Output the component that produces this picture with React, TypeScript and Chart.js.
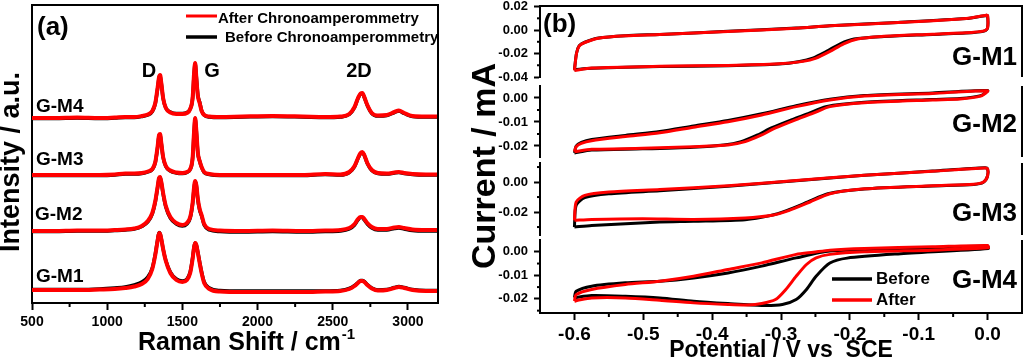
import React, { useEffect, useRef } from 'react';
import { Chart, registerables } from 'chart.js';

Chart.register(...registerables);

// ---------------- Panel (a): Raman spectra ----------------
const RAMAN_X = [500, 650, 800, 950, 1050, 1120, 1180, 1230, 1270, 1300, 1320, 1335, 1345, 1352, 1360, 1372, 1390, 1420, 1460, 1500, 1530, 1552, 1568, 1578, 1585, 1593, 1603, 1615, 1628, 1645, 1680, 1750, 1900, 2100, 2300, 2450, 2550, 2610, 2645, 2668, 2685, 2697, 2710, 2730, 2760, 2800, 2860, 2910, 2940, 2975, 3030, 3120, 3200];

const M1_AFTER = [13, 13, 13, 13.5, 14, 15, 16.5, 19, 24, 34, 48, 62, 70, 69, 64, 54, 42, 30, 23, 21, 23, 30, 44, 56, 60, 58, 50, 40, 30, 20, 14, 11.5, 11, 11, 11, 11.5, 12, 14, 17, 20, 22, 22, 21, 18, 14.5, 12.5, 13, 15, 16, 15, 13, 12, 12];
const M1_BEFORE = [13.5, 13.5, 13.5, 14, 15, 16, 18, 21, 26, 35, 49, 63, 70.5, 69.5, 64, 54, 42.5, 31, 24, 22, 24, 31, 45, 56.5, 60, 58, 51, 41, 31, 21, 15, 12.5, 12, 12, 12, 12, 12.5, 14.5, 17.5, 20.5, 22.5, 22.5, 21.5, 18.5, 15, 13, 13.5, 15.5, 16.5, 15.5, 13.5, 12.5, 12.5];
const M2_AFTER = [72, 72, 72.5, 72.5, 73, 73.5, 74.5, 77, 82, 90, 102, 116, 125, 126, 121, 110, 97, 86, 80, 78, 80, 86, 100, 116, 122, 118, 104, 94, 88, 79, 74, 72.5, 72, 72.5, 72, 72.5, 73, 75, 79, 84, 86, 86, 84, 80, 76, 74, 74, 75.5, 76, 75, 73.5, 73, 73];
const M2_BEFORE = [71.5, 71.5, 72, 72, 72.5, 73, 74, 76.5, 81, 89, 101, 115, 124.5, 125.5, 120.5, 109, 96, 85, 79, 77, 79, 85, 99, 115, 121.5, 117.5, 103, 93, 87, 78, 73, 71.5, 71, 71.5, 71, 71.5, 72, 74, 78, 83, 85.5, 85.5, 83, 79, 75, 73, 73, 74.5, 75, 74, 72.5, 72, 72];
const M3_AFTER = [128, 128, 128, 128, 128.5, 129.5, 129.5, 130, 131.5, 134, 141, 156, 168, 169, 160, 146, 137, 132.5, 130.5, 130, 131, 134, 145, 172, 185, 172, 150, 142, 136, 131, 129, 128, 128, 128, 128, 129, 128.5, 131, 137, 145, 150, 151, 148, 140, 133, 130, 129.5, 130.5, 131, 130, 129, 128.5, 128.5];
const M3_BEFORE = [127.5, 127.5, 127.5, 127.5, 128, 129, 129, 129.5, 131, 133.5, 140.5, 155, 167.5, 168.5, 159.5, 145.5, 136.5, 132, 130, 129.5, 130.5, 133.5, 144.5, 171, 184.5, 171.5, 150, 142, 135.5, 130.5, 128.5, 127.5, 127.5, 127.5, 127.5, 128.5, 128, 130.5, 136.5, 144.5, 149.5, 150.5, 147.5, 139.5, 132.5, 129.5, 129, 130, 130.5, 129.5, 128.5, 128, 128];
const M4_AFTER = [185, 185, 185.5, 185, 185.5, 186, 186, 187, 188.5, 192, 200, 215, 226, 228, 220, 205, 195, 190.5, 189, 189, 190, 194, 205, 230, 240, 225, 207, 200, 192, 188, 186.5, 186, 186.5, 187, 186.5, 186, 186.5, 189, 196, 205, 209.5, 210, 206, 198, 190, 187.5, 188, 191, 192.5, 190, 187, 186.5, 186.5];
const M4_BEFORE = [184.5, 184.5, 185, 184.5, 185, 185.5, 185.5, 186.5, 188, 191.5, 199.5, 214, 225.5, 227.5, 219.5, 204.5, 195, 191, 189.5, 189.5, 190.5, 194, 204.5, 229, 239.5, 226, 208, 201, 192.5, 188, 186, 185.5, 186, 186.5, 186, 185.5, 186, 188.5, 195.5, 204.5, 209, 209.5, 205.5, 197.5, 189.5, 187, 187.5, 190.5, 192, 189.5, 186.5, 186, 186];

const RAMAN_TICKS = [500, 1000, 1500, 2000, 2500, 3000];
const RAMAN_MINOR = [750, 1250, 1750, 2250, 2750];
const SAMPLES = ['G-M1', 'G-M2', 'G-M3', 'G-M4'];
const PEAKS = ['D', 'G', '2D'];
const LEGEND_A = ['After Chronoamperommetry', 'Before Chronoamperommetry'];
const LEGEND_B = ['Before', 'After'];

// ---------------- Panel (b): cyclic voltammograms ----------------
const CV1_AFTER_V = [-0.600, -0.597, -0.593, -0.585, -0.565, -0.526, -0.476, -0.377, -0.278, -0.229, -0.130, -0.031, -0.002, 0.000, 0.000, -0.004, -0.020, -0.080, -0.154, -0.189, -0.209, -0.229, -0.249, -0.268, -0.303, -0.377, -0.476, -0.575, -0.600];
const CV1_AFTER_I = [-0.0345, -0.0200, -0.0135, -0.0106, -0.0069, -0.0049, -0.0038, -0.0012, 0.0016, 0.0036, 0.0064, 0.0098, 0.0127, 0.0125, 0.0020, -0.0005, -0.0018, -0.0035, -0.0055, -0.0077, -0.0117, -0.0182, -0.0239, -0.0267, -0.0287, -0.0301, -0.0309, -0.0324, -0.0345];
const CV1_BEFORE_V = [-0.600, -0.597, -0.593, -0.585, -0.565, -0.526, -0.476, -0.377, -0.278, -0.229, -0.130, -0.031, -0.002, 0.000, 0.000, -0.004, -0.020, -0.080, -0.154, -0.194, -0.214, -0.234, -0.254, -0.273, -0.303, -0.377, -0.476, -0.575, -0.600];
const CV1_BEFORE_I = [-0.0338, -0.0198, -0.0133, -0.0104, -0.0068, -0.0048, -0.0037, -0.0011, 0.0017, 0.0037, 0.0065, 0.0098, 0.0125, 0.0122, 0.0018, -0.0007, -0.0020, -0.0037, -0.0057, -0.0077, -0.0117, -0.0182, -0.0239, -0.0268, -0.0290, -0.0304, -0.0311, -0.0326, -0.0338];

const CV2_AFTER_V = [-0.600, -0.5975, -0.590, -0.575, -0.526, -0.476, -0.427, -0.377, -0.328, -0.278, -0.229, -0.179, -0.080, 0.000, -0.010, -0.040, -0.080, -0.179, -0.229, -0.253, -0.278, -0.308, -0.328, -0.352, -0.377, -0.427, -0.501, -0.575, -0.600];
const CV2_AFTER_I = [-0.0224, -0.0203, -0.0189, -0.0178, -0.0161, -0.0145, -0.0122, -0.0099, -0.0071, -0.0036, -0.0008, 0.0008, 0.0019, 0.0030, 0.0008, -0.0004, -0.0008, -0.0020, -0.0036, -0.0063, -0.0090, -0.0125, -0.0154, -0.0182, -0.0196, -0.0203, -0.0210, -0.0214, -0.0224];
const CV2_BEFORE_V = [-0.600, -0.5975, -0.590, -0.575, -0.526, -0.476, -0.427, -0.377, -0.328, -0.278, -0.229, -0.179, -0.080, 0.000, -0.010, -0.040, -0.080, -0.179, -0.235, -0.259, -0.284, -0.314, -0.334, -0.358, -0.383, -0.427, -0.501, -0.575, -0.600];
const CV2_BEFORE_I = [-0.0229, -0.0200, -0.0185, -0.0173, -0.0156, -0.0140, -0.0117, -0.0094, -0.0066, -0.0032, -0.0005, 0.0010, 0.0021, 0.0031, 0.0010, -0.0002, -0.0006, -0.0018, -0.0036, -0.0063, -0.0090, -0.0125, -0.0154, -0.0182, -0.0196, -0.0205, -0.0212, -0.0217, -0.0229];

const CV3_AFTER_V = [-0.600, -0.5975, -0.585, -0.550, -0.476, -0.377, -0.278, -0.179, -0.080, -0.004, 0.000, 0.000, -0.006, -0.020, -0.080, -0.179, -0.229, -0.258, -0.288, -0.313, -0.352, -0.427, -0.501, -0.575, -0.600];
const CV3_AFTER_I = [-0.0255, -0.0133, -0.0089, -0.0067, -0.0050, -0.0025, 0.0010, 0.0045, 0.0072, 0.0094, 0.0088, 0.0040, 0.0000, -0.0015, -0.0025, -0.0045, -0.0078, -0.0133, -0.0189, -0.0222, -0.0240, -0.0249, -0.0244, -0.0249, -0.0255];
const CV3_BEFORE_V = [-0.600, -0.5975, -0.585, -0.550, -0.476, -0.377, -0.278, -0.179, -0.080, -0.004, 0.000, 0.000, -0.006, -0.020, -0.080, -0.179, -0.232, -0.261, -0.291, -0.316, -0.352, -0.427, -0.476, -0.575, -0.600];
const CV3_BEFORE_I = [-0.0300, -0.0155, -0.0104, -0.0078, -0.0058, -0.0028, 0.0009, 0.0045, 0.0073, 0.0095, 0.0089, 0.0040, -0.0001, -0.0016, -0.0026, -0.0046, -0.0078, -0.0133, -0.0189, -0.0224, -0.0251, -0.0262, -0.0267, -0.0289, -0.0300];

const CV4_AFTER_V = [-0.600, -0.5975, -0.575, -0.526, -0.476, -0.427, -0.377, -0.328, -0.278, -0.253, -0.229, -0.179, -0.080, 0.000, 0.001, -0.080, -0.179, -0.229, -0.249, -0.263, -0.278, -0.293, -0.308, -0.328, -0.348, -0.377, -0.427, -0.476, -0.526, -0.575, -0.595, -0.600];
const CV4_AFTER_I = [-0.0210, -0.0182, -0.0160, -0.0139, -0.0125, -0.0104, -0.0075, -0.0047, -0.0011, -0.0002, 0.0007, 0.0014, 0.0021, 0.0027, 0.0017, 0.0007, 0.0000, -0.0011, -0.0026, -0.0054, -0.0104, -0.0160, -0.0203, -0.0220, -0.0226, -0.0224, -0.0217, -0.0206, -0.0196, -0.0196, -0.0206, -0.0210];
const CV4_BEFORE_V = [-0.600, -0.5975, -0.575, -0.526, -0.476, -0.427, -0.377, -0.328, -0.278, -0.229, -0.130, 0.000, 0.001, -0.130, -0.204, -0.229, -0.249, -0.263, -0.278, -0.298, -0.328, -0.377, -0.427, -0.476, -0.526, -0.575, -0.600];
const CV4_BEFORE_I = [-0.0195, -0.0168, -0.0146, -0.0132, -0.0125, -0.0111, -0.0090, -0.0061, -0.0026, 0.0003, 0.0011, 0.0024, 0.0014, -0.0009, -0.0027, -0.0048, -0.0104, -0.0160, -0.0203, -0.0224, -0.0228, -0.0220, -0.0210, -0.0196, -0.0189, -0.0186, -0.0195];

const POT_TICKS = [-0.6, -0.5, -0.4, -0.3, -0.2, -0.1, 0.0];
const POT_MINOR = [-0.55, -0.45, -0.35, -0.25, -0.15, -0.05];

const CUR_RANGES = [[-0.04, 0.0205], [-0.0246, 0.005], [-0.0353, 0.0127], [-0.026, 0.005]];
const CUR_MAJOR = [[0.02, 0.0, -0.02, -0.04], [0.0, -0.01, -0.02], [0.0, -0.02], [0.0, -0.01, -0.02]];
const CUR_MINOR = [[0.01, -0.01, -0.03], [-0.005, -0.015], [0.01, -0.01, -0.03], [-0.005, -0.015, -0.025]];

const CV_SETS = [
  { aV: CV1_AFTER_V, aI: CV1_AFTER_I, bV: CV1_BEFORE_V, bI: CV1_BEFORE_I },
  { aV: CV2_AFTER_V, aI: CV2_AFTER_I, bV: CV2_BEFORE_V, bI: CV2_BEFORE_I },
  { aV: CV3_AFTER_V, aI: CV3_AFTER_I, bV: CV3_BEFORE_V, bI: CV3_BEFORE_I },
  { aV: CV4_AFTER_V, aI: CV4_AFTER_I, bV: CV4_BEFORE_V, bI: CV4_BEFORE_I },
];

// ---------------- layout / style ----------------
const FF = '"Liberation Sans", Arial, Helvetica, sans-serif';
const RED = '#ff0000';
const BLACK = '#000000';
const B_LEFT = 470; // page x of panel (b) canvas
const SUB_TOP = [6, 86, 163, 240];
const SUB_BOTTOM = [77, 157, 235, 313];
const SUB_LABEL_BASE = [65, 132, 221, 288];

function txt(ctx: CanvasRenderingContext2D, s: string, x: number, y: number, size: number, align: CanvasTextAlign = 'left', baseline: CanvasTextBaseline = 'alphabetic') {
  ctx.font = `bold ${size}px ${FF}`;
  ctx.fillStyle = BLACK;
  ctx.textAlign = align;
  ctx.textBaseline = baseline;
  ctx.fillText(s, x, y);
}

function seg(ctx: CanvasRenderingContext2D, x1: number, y1: number, x2: number, y2: number, color = BLACK, w = 2) {
  ctx.strokeStyle = color;
  ctx.lineWidth = w;
  ctx.beginPath();
  ctx.moveTo(x1, y1);
  ctx.lineTo(x2, y2);
  ctx.stroke();
}

const ramanDs = (ys: number[], color: string, w: number) => ({
  data: RAMAN_X.map((x, i) => ({ x, y: ys[i] })),
  borderColor: color,
  borderWidth: w,
  pointRadius: 0,
  fill: false,
  cubicInterpolationMode: 'monotone' as const,
});

const annotA = {
  id: 'annotA',
  afterDraw(chart: any) {
    const { ctx, chartArea: ca } = chart;
    const xs = chart.scales.x;
    ctx.save();
    seg(ctx, ca.left, ca.top, ca.right + 1, ca.top);
    seg(ctx, ca.right, ca.top, ca.right, ca.bottom);
    RAMAN_MINOR.forEach((v) => {
      const px = xs.getPixelForValue(v);
      seg(ctx, px, ca.bottom, px, ca.bottom + 4);
    });
    txt(ctx, '(a)', 37, 35, 26);
    seg(ctx, 186, 16, 217, 16, RED, 3);
    txt(ctx, LEGEND_A[0], 218, 23, 15);
    seg(ctx, 186, 37, 217, 37, BLACK, 3.5);
    txt(ctx, LEGEND_A[1], 225, 42, 15);
    txt(ctx, PEAKS[0], 149, 77, 20, 'center');
    txt(ctx, PEAKS[1], 212, 77, 20, 'center');
    txt(ctx, PEAKS[2], 359, 77, 20, 'center');
    txt(ctx, SAMPLES[3], 36, 112, 19);
    txt(ctx, SAMPLES[2], 36, 165, 19);
    txt(ctx, SAMPLES[1], 35, 220, 19);
    txt(ctx, SAMPLES[0], 36, 282, 19);
    txt(ctx, 'Raman Shift / cm', 138, 350, 25);
    ctx.font = `bold 25px ${FF}`;
    const w = ctx.measureText('Raman Shift / cm').width;
    txt(ctx, '-1', 138 + w + 1, 339, 15);
    ctx.save();
    ctx.translate(18.5, 162);
    ctx.rotate(-Math.PI / 2);
    txt(ctx, 'Intensity / a.u.', 0, 0, 27, 'center');
    ctx.restore();
    ctx.restore();
  },
};

function makeConfigA(): any {
  return {
    type: 'line',
    data: {
      datasets: [
        ramanDs(M4_AFTER, RED, 4),
        ramanDs(M3_AFTER, RED, 4),
        ramanDs(M2_AFTER, RED, 4),
        ramanDs(M1_AFTER, RED, 4),
        ramanDs(M4_BEFORE, BLACK, 3.5),
        ramanDs(M3_BEFORE, BLACK, 3.5),
        ramanDs(M2_BEFORE, BLACK, 3.5),
        ramanDs(M1_BEFORE, BLACK, 3.5),
      ],
    },
    options: {
      animation: false,
      responsive: false,
      events: [],
      layout: { padding: { top: 5, right: 32, left: 0, bottom: 0 } },
      plugins: { legend: { display: false }, tooltip: { enabled: false } },
      scales: {
        x: {
          type: 'linear',
          min: 500,
          max: 3200,
          afterBuildTicks: (s: any) => { s.ticks = RAMAN_TICKS.map((v) => ({ value: v })); },
          afterFit: (s: any) => { s.height = 60; s.paddingLeft = 0; s.paddingRight = 0; },
          grid: { display: true, drawOnChartArea: false, drawTicks: true, tickLength: 7, tickWidth: 2, tickColor: BLACK },
          border: { display: true, color: BLACK, width: 2 },
          ticks: { color: BLACK, padding: 4, maxRotation: 0, autoSkip: false, font: { family: FF, size: 14, weight: 'bold' }, callback: (v: any) => String(v) },
        },
        y: {
          type: 'linear',
          min: 0,
          max: 298,
          afterFit: (s: any) => { s.width = 32; s.paddingTop = 0; s.paddingBottom = 0; },
          grid: { display: true, drawOnChartArea: false, drawTicks: false },
          border: { display: true, color: BLACK, width: 2 },
          ticks: { display: false },
        },
      },
    },
    plugins: [annotA],
  };
}

function makeCvPlugin(i: number) {
  return {
    id: 'annotB' + i,
    afterDraw(chart: any) {
      const { ctx, chartArea: ca } = chart;
      const ys = chart.scales.y;
      ctx.save();
      seg(ctx, ca.right, ca.top, ca.right, ca.bottom);
      if (i === 0) seg(ctx, ca.left, ca.top, ca.right + 1, ca.top);
      CUR_MINOR[i].forEach((v) => {
        const py = ys.getPixelForValue(v);
        seg(ctx, ca.left - 3, py, ca.left, py);
      });
      txt(ctx, SAMPLES[i], 1017 - B_LEFT, SUB_LABEL_BASE[i], 26, 'right');
      if (i === 3) {
        const xs = chart.scales.x;
        POT_MINOR.forEach((v) => {
          const px = xs.getPixelForValue(v);
          seg(ctx, px, ca.bottom, px, ca.bottom + 4);
        });
        txt(ctx, '(b)', 543 - B_LEFT, 32, 26);
        seg(ctx, 832 - B_LEFT, 279, 872 - B_LEFT, 279, BLACK, 3.5);
        txt(ctx, LEGEND_B[0], 876 - B_LEFT, 279, 17, 'left', 'middle');
        seg(ctx, 832 - B_LEFT, 300, 872 - B_LEFT, 300, RED, 3.5);
        txt(ctx, LEGEND_B[1], 876 - B_LEFT, 300, 17, 'left', 'middle');
        txt(ctx, 'Potential / V vs  SCE', 781 - B_LEFT, 357, 23, 'center');
        ctx.save();
        ctx.translate(495 - B_LEFT, 166);
        ctx.rotate(-Math.PI / 2);
        txt(ctx, 'Current / mA', 0, 0, 34, 'center');
        ctx.restore();
      }
      ctx.restore();
    },
  };
}

function makeCvConfig(i: number): any {
  const set = CV_SETS[i];
  const last = i === 3;
  const pts = (vs: number[], is: number[]) => vs.map((v, k) => ({ x: v, y: is[k] }));
  const xScale: any = {
    type: 'linear',
    min: -0.65,
    max: 0.05,
    display: last,
    afterBuildTicks: (s: any) => { s.ticks = POT_TICKS.map((v) => ({ value: v })); },
    grid: { display: true, drawOnChartArea: false, drawTicks: true, tickLength: 7, tickWidth: 2, tickColor: BLACK },
    border: { display: true, color: BLACK, width: 2 },
    ticks: { color: BLACK, padding: 3, maxRotation: 0, autoSkip: false, font: { family: FF, size: 19, weight: 'bold' }, callback: (v: any) => Number(v).toFixed(1) },
  };
  if (last) xScale.afterFit = (s: any) => { s.height = 50; s.paddingLeft = 0; s.paddingRight = 0; };
  return {
    type: 'scatter',
    data: {
      datasets: [
        { data: pts(set.aV, set.aI), borderColor: RED, borderWidth: 3, showLine: true, pointRadius: 0, tension: 0.25, fill: false },
        { data: pts(set.bV, set.bI), borderColor: BLACK, borderWidth: 3, showLine: true, pointRadius: 0, tension: 0.25, fill: false },
      ],
    },
    options: {
      animation: false,
      responsive: false,
      events: [],
      layout: { padding: { top: SUB_TOP[i], bottom: last ? 0 : 363 - SUB_BOTTOM[i], left: 0, right: 2 } },
      plugins: { legend: { display: false }, tooltip: { enabled: false } },
      scales: {
        x: xScale,
        y: {
          type: 'linear',
          min: CUR_RANGES[i][0],
          max: CUR_RANGES[i][1],
          afterBuildTicks: (s: any) => { s.ticks = CUR_MAJOR[i].map((v) => ({ value: v })); },
          afterFit: (s: any) => { s.width = 70; s.paddingTop = 0; s.paddingBottom = 0; },
          grid: { display: true, drawOnChartArea: false, drawTicks: true, tickLength: 6, tickWidth: 2, tickColor: BLACK },
          border: { display: true, color: BLACK, width: 2 },
          ticks: { color: BLACK, padding: 6, autoSkip: false, font: { family: FF, size: 13, weight: 'bold' }, callback: (v: any) => Number(v).toFixed(2) },
        },
      },
    },
    plugins: [makeCvPlugin(i)],
  };
}

export default function App() {
  const aRef = useRef<HTMLCanvasElement>(null);
  const b0 = useRef<HTMLCanvasElement>(null);
  const b1 = useRef<HTMLCanvasElement>(null);
  const b2 = useRef<HTMLCanvasElement>(null);
  const b3 = useRef<HTMLCanvasElement>(null);
  const bRefs = [b0, b1, b2, b3];

  useEffect(() => {
    const charts: Chart[] = [];
    if (aRef.current) charts.push(new Chart(aRef.current, makeConfigA()));
    bRefs.forEach((r, i) => {
      if (r.current) charts.push(new Chart(r.current, makeCvConfig(i)));
    });
    return () => charts.forEach((c) => c.destroy());
  }, []);

  return (
    <div style={{ position: 'absolute', left: 0, top: 0, width: 1024, height: 363, overflow: 'hidden', background: '#fff' }}>
      <canvas ref={aRef} width={470} height={363} style={{ position: 'absolute', left: 0, top: 0 }} />
      {bRefs.map((r, i) => (
        <canvas key={i} ref={r} width={554} height={363} style={{ position: 'absolute', left: B_LEFT, top: 0 }} />
      ))}
    </div>
  );
}
